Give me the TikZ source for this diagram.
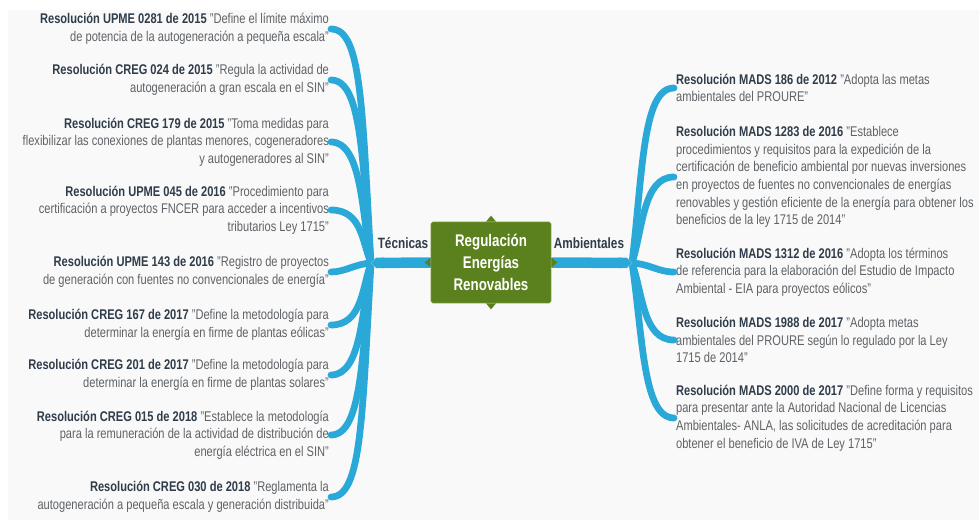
\documentclass[tikz,border=0pt]{standalone}
\usepackage{fontspec}
\setmainfont{Liberation Sans}[FakeStretch=0.79]
\usetikzlibrary{arrows.meta}

\definecolor{branchblue}{HTML}{2AA9D9}
\definecolor{hubgreen}{HTML}{5B801E}
\definecolor{hubedge}{HTML}{75992F}
\definecolor{notedark}{HTML}{2F3C4A}
\definecolor{notegray}{HTML}{5E6266}
\definecolor{panelgray}{HTML}{F9F9F9}

\newcommand{\resol}[1]{\textcolor{notedark}{\bfseries #1}}

\tikzset{
    branch/.style={draw=branchblue, line width=1.35mm, line cap=round},
    bar/.style={draw=branchblue, line width=2.1mm, -{Triangle Cap},
        preaction={draw=white, line width=2.4mm, -{Triangle Cap}}},
    leftnote/.style={anchor=east, align=right, inner sep=1pt, text=notegray,
        font=\fontsize{8}{10}\selectfont},
    rightnote/.style={anchor=west, align=left, inner sep=1pt, text=notegray,
        font=\fontsize{8}{10}\selectfont},
    hub/.style={fill=hubgreen, draw=hubedge, rounded corners=1pt,
        minimum width=2.4cm, minimum height=1.62cm, align=center, text=white,
        font=\bfseries\fontsize{9.6}{12.3}\selectfont},
    sidelabel/.style={text=notedark, inner sep=0pt, font=\bfseries\fontsize{8.5}{10}\selectfont}
}

\begin{document}
\begin{tikzpicture}[x=0.02cm, y=-0.02cm]
                \useasboundingbox (0,0) rectangle (979,520);
                \fill[panelgray] (8,10) rectangle (979,520);

                \node[hub] (hub) at (491,262.5) {Regulación\\Energías\\Renovables};
                \node[sidelabel] (tec) at (403,243) {Técnicas};
                \node[sidelabel] (amb) at (589,243) {Ambientales};
                \coordinate (tecj) at (371,263);
                \coordinate (ambj) at (632,263);

                % tecnicas
                \node[leftnote] (upme0281) at (331,29) {\resol{Resolución UPME 0281 de 2015} "Define el límite máximo\\de potencia de la autogeneración a pequeña escala"};
                \node[leftnote] (creg024) at (331,80) {\resol{Resolución CREG 024 de 2015} "Regula la actividad de\\autogeneración a gran escala en el SIN"};
                \node[leftnote] (creg179) at (331,142) {\resol{Resolución CREG 179 de 2015} "Toma medidas para\\flexibilizar las conexiones de plantas menores, cogeneradores\\y autogeneradores al SIN"};
                \node[leftnote] (upme045) at (331,210) {\resol{Resolución UPME 045 de 2016} "Procedimiento para\\certificación a proyectos FNCER para acceder a incentivos\\tributarios Ley 1715"};
                \node[leftnote] (upme143) at (331,272) {\resol{Resolución UPME 143 de 2016} "Registro de proyectos\\de generación con fuentes no convencionales de energía"};
                \node[leftnote] (creg167) at (331,325) {\resol{Resolución CREG 167 de 2017} "Define la metodología para\\determinar la energía en firme de plantas eólicas"};
                \node[leftnote] (creg201) at (331,375) {\resol{Resolución CREG 201 de 2017} "Define la metodología para\\determinar la energía en firme de plantas solares"};
                \node[leftnote] (creg015) at (331,435) {\resol{Resolución CREG 015 de 2018} "Establece la metodología\\para la remuneración de la actividad de distribución de\\energía eléctrica en el SIN"};
                \node[leftnote] (creg030) at (331,497) {\resol{Resolución CREG 030 de 2018} "Reglamenta la\\autogeneración a pequeña escala y generación distribuida"};

                % ambientales
                \node[rightnote] (mads186) at (674,88) {\resol{Resolución MADS 186 de 2012} "Adopta las metas\\ambientales del PROURE"};
                \node[rightnote] (mads1283) at (674,177) {\resol{Resolución MADS 1283 de 2016} "Establece\\procedimientos y requisitos para la expedición de la\\certificación de beneficio ambiental por nuevas inversiones\\en proyectos de fuentes no convencionales de energías\\renovables y gestión eficiente de la energía para obtener los\\beneficios de la ley 1715 de 2014"};
                \node[rightnote] (mads1312) at (674,272) {\resol{Resolución MADS 1312 de 2016} "Adopta los términos\\de referencia para la elaboración del Estudio de Impacto\\Ambiental - EIA para proyectos eólicos"};
                \node[rightnote] (mads1988) at (674,340) {\resol{Resolución MADS 1988 de 2017} "Adopta metas\\ambientales del PROURE según lo regulado por la Ley\\1715 de 2014"};
                \node[rightnote] (mads2000) at (674,418) {\resol{Resolución MADS 2000 de 2017} "Define forma y requisitos\\para presentar ante la Autoridad Nacional de Licencias\\Ambientales- ANLA, las solicitudes de acreditación para\\obtener el beneficio de IVA de Ley 1715"};

                \draw[branch] (tecj) .. controls (362,109) and (362,29) .. (upme0281.east);
                \draw[branch] (tecj) .. controls (362,160) and (362,80) .. (creg024.east);
                \draw[branch] (tecj) .. controls (362,214) and (362,142) .. (creg179.east);
                \draw[branch] (tecj) .. controls (362,242) and (362,210) .. (upme045.east);
                \draw[branch] (tecj) .. controls (355,264) and (345,272) .. (upme143.east);
                \draw[branch] (tecj) .. controls (362,288) and (362,325) .. (creg167.east);
                \draw[branch] (tecj) .. controls (362,308) and (362,375) .. (creg201.east);
                \draw[branch] (tecj) .. controls (362,355) and (362,435) .. (creg015.east);
                \draw[branch] (tecj) .. controls (362,417) and (362,497) .. (creg030.east);

                \draw[branch] (ambj) .. controls (643,168) and (643,88) .. (mads186.west);
                \draw[branch] (ambj) .. controls (643,229) and (643,177) .. (mads1283.west);
                \draw[branch] (ambj) .. controls (650,264) and (658,272) .. (mads1312.west);
                \draw[branch] (ambj) .. controls (643,294) and (643,340) .. (mads1988.west);
                \draw[branch] (ambj) .. controls (643,338) and (643,418) .. (mads2000.west);

                \draw[bar] (hub.west) -- (tecj);
                \draw[bar] (hub.east) -- (ambj);

                \fill[hubgreen] (hub.north) ++(-5,0) -- ++(5,-6) -- ++(5,6) -- cycle;
                \fill[hubgreen] (hub.south) ++(-5,0) -- ++(5,6) -- ++(5,-6) -- cycle;
                \fill[hubgreen] (hub.west) ++(0,-5) -- ++(-6,5) -- ++(6,5) -- cycle;
                \fill[hubgreen] (hub.east) ++(0,-5) -- ++(6,5) -- ++(-6,5) -- cycle;
            \end{tikzpicture}
\end{document}
